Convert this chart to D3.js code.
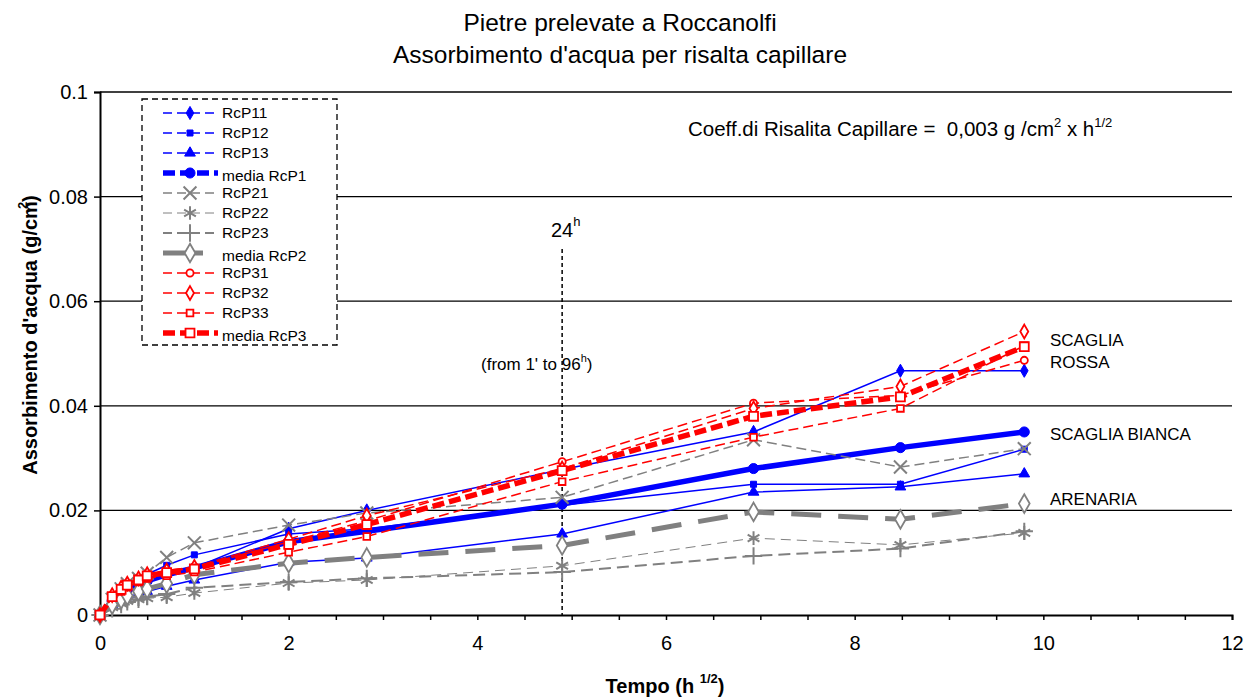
<!DOCTYPE html>
<html>
<head>
<meta charset="utf-8">
<script src="https://cdn.jsdelivr.net/npm/d3@7"></script>
<style>
  body { margin: 0; background: #fff; }
  text { font-family: Arial, "Liberation Sans", sans-serif; }
</style>
</head>
<body>
<div id="chart"></div>
<script>
var width = 1251;
var height = 698;

// sqrt(h) : 0, 1', 3', 5', 10', 15', 30', 1h, 4h, 8h, 24h, 48h, 72h, 96h
var tempo = [0, 0.129, 0.224, 0.289, 0.408, 0.5, 0.707, 1, 2, 2.828, 4.899, 6.928, 8.485, 9.798];

var rcp11 = [0, 0.003, 0.004, 0.005, 0.006, 0.007, 0.008, 0.009, 0.0165, 0.0200, 0.0278, 0.0350, 0.0467, 0.0467];
var rcp12 = [0, 0.003, 0.005, 0.006, 0.0068, 0.0078, 0.0095, 0.0115, 0.0155, 0.0165, 0.0210, 0.0250, 0.0250, 0.0317];
var rcp13 = [0, 0.002, 0.003, 0.0035, 0.004, 0.0045, 0.0055, 0.0067, 0.0101, 0.0109, 0.0155, 0.0235, 0.0245, 0.0270];
var mediaRcp1 = [0, 0.0027, 0.004, 0.0048, 0.0057, 0.0065, 0.0077, 0.009, 0.0140, 0.0160, 0.0212, 0.0280, 0.0320, 0.0350];
var rcp21 = [0, 0.003, 0.005, 0.006, 0.007, 0.008, 0.011, 0.0138, 0.0172, 0.0195, 0.0225, 0.0335, 0.0283, 0.0318];
var rcp22 = [0, 0.0015, 0.0022, 0.0027, 0.003, 0.0032, 0.0034, 0.0042, 0.0061, 0.0067, 0.0094, 0.0147, 0.0134, 0.0157];
var rcp23 = [0, 0.0012, 0.002, 0.0025, 0.003, 0.0035, 0.004, 0.0052, 0.0063, 0.0070, 0.0082, 0.0113, 0.0127, 0.0160];
var mediaRcp2 = [0, 0.002, 0.003, 0.0037, 0.0045, 0.005, 0.006, 0.0077, 0.0099, 0.0110, 0.0133, 0.0197, 0.0183, 0.0213];
var rcp31 = [0, 0.0035, 0.005, 0.0058, 0.0068, 0.0078, 0.0083, 0.009, 0.0140, 0.0180, 0.0293, 0.0405, 0.0420, 0.0487];
var rcp32 = [0, 0.0038, 0.0052, 0.006, 0.007, 0.0078, 0.0085, 0.0092, 0.0145, 0.0190, 0.0280, 0.0395, 0.0437, 0.0542];
var rcp33 = [0, 0.0033, 0.0045, 0.0053, 0.0063, 0.007, 0.0075, 0.0082, 0.0120, 0.0150, 0.0255, 0.0340, 0.0395, 0.0515];
var mediaRcp3 = [0, 0.0035, 0.0049, 0.0057, 0.0067, 0.0075, 0.0081, 0.0088, 0.0135, 0.0173, 0.0276, 0.0380, 0.0417, 0.0513];

var names = ["RcP11", "RcP12", "RcP13", "media RcP1", "RcP21", "RcP22", "RcP23", "media RcP2",
             "RcP31", "RcP32", "RcP33", "media RcP3"];
var values = [rcp11, rcp12, rcp13, mediaRcp1, rcp21, rcp22, rcp23, mediaRcp2, rcp31, rcp32, rcp33, mediaRcp3];

var yTicks = [0, 0.02, 0.04, 0.06, 0.08, 0.1];
var xTicks = [0, 2, 4, 6, 8, 10, 12];
var rockLabels = [["SCAGLIA", 0.0525], ["ROSSA", 0.0483], ["SCAGLIA BIANCA", 0.0346], ["ARENARIA", 0.0221]];

var blue = "#0000ff", grey = "#808080", red = "#ff0000";

// line / marker style for each series
var styles = [
  { color: blue, w: 1.5, dash: null, sym: "diamond", fill: true, size: 50 },
  { color: blue, w: 1.5, dash: null, sym: "square", fill: true, size: 36 },
  { color: blue, w: 1.5, dash: null, sym: "triangle", fill: true, size: 50 },
  { color: blue, w: 5.5, dash: null, sym: "circle", fill: true, size: 80 },
  { color: grey, w: 1.5, dash: "10,5", sym: "times", fill: false, size: 110 },
  { color: grey, w: 1, dash: "10,6", sym: "asterisk", fill: false, size: 130 },
  { color: grey, w: 2, dash: "12,6", sym: "plus", fill: false, size: 100 },
  { color: grey, w: 5, dash: "30,17", sym: "diamond", fill: false, size: 100 },
  { color: red, w: 1.5, dash: "10,5", sym: "circle", fill: false, size: 40 },
  { color: red, w: 1.5, dash: "10,5", sym: "diamond", fill: false, size: 55 },
  { color: red, w: 1.5, dash: "10,5", sym: "square", fill: false, size: 45 },
  { color: red, w: 5.5, dash: "12,5", sym: "square", fill: false, size: 80 }
];

var symTypes = {
  diamond: d3.symbolDiamond,
  square: d3.symbolSquare,
  triangle: d3.symbolTriangle,
  circle: d3.symbolCircle,
  times: d3.symbolTimes || d3.symbolCross,
  asterisk: d3.symbolAsterisk || d3.symbolCross,
  plus: d3.symbolPlus || d3.symbolCross
};

var plot = { left: 100, right: 1232, top: 92, bottom: 615 };

var xScale = d3.scaleLinear().domain([0, 12]).range([plot.left, plot.right]);
var yScale = d3.scaleLinear().domain([0, 0.1]).range([plot.bottom, plot.top]);

var svg = d3.select("#chart").append("svg")
  .attr("width", width)
  .attr("height", height);

/* Title */
svg.append("text").attr("x", 620).attr("y", 31).attr("text-anchor", "middle")
  .style("font-size", "24.5px").text("Pietre prelevate a Roccanolfi");
svg.append("text").attr("x", 620).attr("y", 63).attr("text-anchor", "middle")
  .style("font-size", "24.5px").text("Assorbimento d'acqua per risalta capillare");

/* Grid lines */
svg.append("g").selectAll("line")
  .data(yTicks.slice(1))
  .enter().append("line")
  .attr("x1", plot.left).attr("x2", plot.right)
  .attr("y1", d => yScale(d)).attr("y2", d => yScale(d))
  .style("stroke", "#000").style("stroke-width", 1.3);

/* Axes */
var yAxis = d3.axisLeft(yScale).tickValues(yTicks).tickSize(6).tickPadding(6)
  .tickFormat(d => d === 0 ? "0" : String(+d.toFixed(2)));
svg.append("g").attr("class", "y axis")
  .attr("transform", `translate(${plot.left},0)`)
  .call(yAxis);

var xAxis = d3.axisBottom(xScale).tickValues(d3.range(0, 12.01, 0.5)).tickSize(5).tickPadding(16)
  .tickFormat(d => xTicks.indexOf(d) >= 0 ? d : "");
svg.append("g").attr("class", "x axis")
  .attr("transform", `translate(0,${plot.bottom})`)
  .call(xAxis);

svg.selectAll(".axis .domain").style("stroke", "#000").style("stroke-width", 2);
svg.selectAll(".axis line").style("stroke", "#000").style("stroke-width", 1.5);
svg.selectAll(".axis text").style("font-size", "20px").style("fill", "#000")
  .style("font-family", "Arial, 'Liberation Sans', sans-serif");

/* Axis labels */
var xl = svg.append("text").attr("x", 665).attr("y", 693).attr("text-anchor", "middle")
  .style("font-size", "20px").style("font-weight", "bold");
xl.append("tspan").text("Tempo (h ");
xl.append("tspan").attr("dy", -10).style("font-size", "13px").text("1/2");
xl.append("tspan").attr("dy", 10).text(")");

var yl = svg.append("text").attr("transform", "translate(37,335) rotate(-90)")
  .attr("text-anchor", "middle")
  .style("font-size", "20px").style("font-weight", "bold");
yl.append("tspan").text("Assorbimento d'acqua (g/cm");
yl.append("tspan").attr("dy", -10).attr("dx", -8).style("font-size", "13px").text("2");
yl.append("tspan").attr("dy", 10).text(")");

/* 24h marker */
svg.append("line")
  .attr("x1", xScale(tempo[10])).attr("x2", xScale(tempo[10]))
  .attr("y1", yScale(0.07)).attr("y2", plot.bottom)
  .style("stroke", "#000").style("stroke-width", 1.5)
  .style("stroke-dasharray", "4,3");

var t24 = svg.append("text").attr("x", 551).attr("y", 237).style("font-size", "20px");
t24.append("tspan").text("24");
t24.append("tspan").attr("dy", -11).style("font-size", "13px").text("h");

var tf = svg.append("text").attr("x", 481).attr("y", 370).style("font-size", "17px");
tf.append("tspan").text("(from 1' to 96");
tf.append("tspan").attr("dy", -8).style("font-size", "11px").text("h");
tf.append("tspan").attr("dy", 8).text(")");

/* Coefficient */
var co = svg.append("text").attr("x", 688).attr("y", 136)
  .style("font-size", "20.5px").style("white-space", "pre");
co.append("tspan").text("Coeff.di Risalita Capillare =  0,003 g /cm");
co.append("tspan").attr("dy", -9).style("font-size", "13px").text("2");
co.append("tspan").attr("dy", 9).text(" x h");
co.append("tspan").attr("dy", -9).style("font-size", "13px").text("1/2");

/* Series */
var line = d3.line()
  .x((d, i) => xScale(tempo[i]))
  .y(d => yScale(d));

var series = svg.append("g").attr("class", "lines")
  .selectAll(".series")
  .data(values)
  .enter().append("g")
  .attr("class", "series");

series.append("path")
  .attr("d", d => line(d))
  .style("fill", "none")
  .style("stroke", (d, i) => styles[i].color)
  .style("stroke-width", (d, i) => styles[i].w)
  .style("stroke-dasharray", (d, i) => styles[i].dash);

function drawMarker(sel, st) {
  var open = st.sym === "times" || st.sym === "asterisk" || st.sym === "plus";
  sel.attr("d", d3.symbol().type(symTypes[st.sym]).size(st.size))
    .style("fill", st.fill ? st.color : (open ? "none" : "#fff"))
    .style("stroke", st.color)
    .style("stroke-width", st.fill ? 1 : (open ? 2 : 1.8));
}

series.each(function(vals, si) {
  var st = styles[si];
  d3.select(this).selectAll(".pt")
    .data(vals)
    .enter().append("path")
    .attr("class", "pt")
    .attr("transform", (d, i) => `translate(${xScale(tempo[i])},${yScale(d)})`)
    .call(drawMarker, st);
});

/* Rock labels */
svg.append("g").selectAll("text")
  .data(rockLabels)
  .enter().append("text")
  .attr("x", 1050)
  .attr("y", d => yScale(d[1]) + 6)
  .style("font-size", "17px")
  .text(d => d[0]);

/* Legend */
var legendBox = { x: 142, y: 99, w: 195, h: 246 };
svg.append("rect")
  .attr("x", legendBox.x).attr("y", legendBox.y)
  .attr("width", legendBox.w).attr("height", legendBox.h)
  .style("fill", "#fff").style("stroke", "#000").style("stroke-width", 1.3)
  .style("stroke-dasharray", "6,4");

var legend = svg.selectAll(".legend")
  .data(names)
  .enter().append("g")
  .attr("class", "legend")
  .attr("transform", (d, i) => `translate(0,${113 + i * 20})`);

legend.append("line")
  .attr("x1", 163).attr("x2", 218).attr("y1", 0).attr("y2", 0)
  .style("stroke", (d, i) => styles[i].color)
  .style("stroke-width", (d, i) => styles[i].w)
  .style("stroke-dasharray", (d, i) => styles[i].w >= 5 ? (i === 7 ? "40,15" : "12,5") : "9,5");

legend.append("path")
  .attr("transform", "translate(190,0)")
  .each(function(d, i) { d3.select(this).call(drawMarker, styles[i]); });

legend.append("text")
  .attr("x", 222)
  .attr("y", (d, i) => styles[i].w >= 5 ? 8 : 5)
  .style("font-size", "15.5px")
  .text(d => d);
</script>
</body>
</html>
